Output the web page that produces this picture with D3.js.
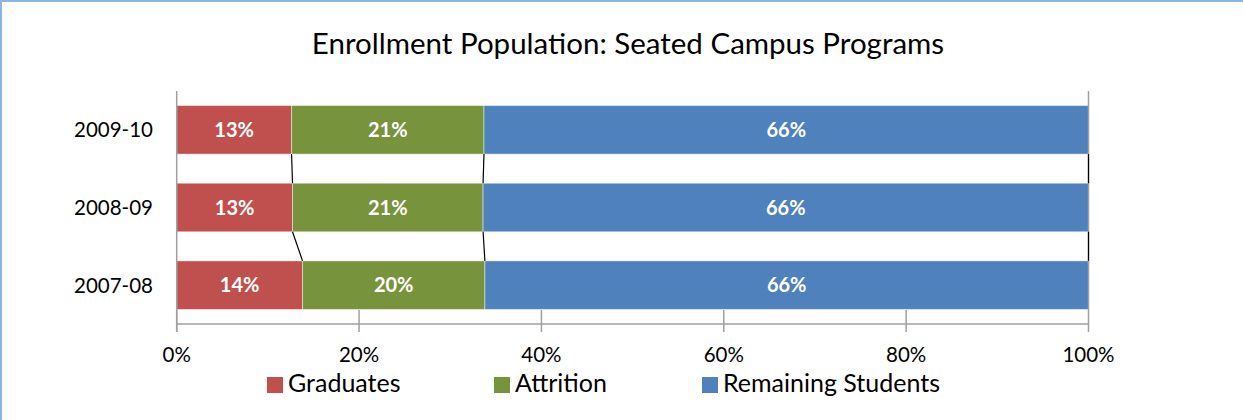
<!DOCTYPE html>
<html>
<head>
<meta charset="utf-8">
<script src="https://cdn.jsdelivr.net/npm/d3@7/dist/d3.min.js"></script>
<style>
  html, body { margin: 0; padding: 0; background: #fff; }
  svg { display: block; }
  text { font-family: Lato, "Open Sans", sans-serif; }
</style>
</head>
<body>
<svg id="chart" width="1243" height="420"></svg>
<script>
// ---- data ----
const categories = ["2009-10", "2008-09", "2007-08"];
const seriesNames = ["Graduates", "Attrition", "Remaining Students"];
const graduates = [0.126, 0.127, 0.138];
const attrition = [0.211, 0.209, 0.200];
const remaining = [0.663, 0.664, 0.662];
const tickValues = [0, 0.2, 0.4, 0.6, 0.8, 1.0];
const titleText = "Enrollment Population: Seated Campus Programs";

// ---- layout / style ----
const colors = ["#C0504D", "#77933C", "#4F81BD"];
const W = 1243, H = 420;
const plot = { left: 176.7, right: 1088.5, top: 91, bottom: 324 };

const svg = d3.select("#chart");

// chart border (left & top visible)
svg.append("line").attr("x1", 1).attr("x2", 1).attr("y1", 0).attr("y2", H)
  .attr("stroke", "#8EB4E3").attr("stroke-width", 2);
svg.append("line").attr("x1", 0).attr("x2", W).attr("y1", 1).attr("y2", 1)
  .attr("stroke", "#8EB4E3").attr("stroke-width", 2);

const x = d3.scaleLinear().domain([0, 1]).range([plot.left, plot.right]);
const y = d3.scaleBand().domain(categories).range([plot.top, plot.bottom])
  .paddingInner(0.375).paddingOuter(0.1875);

const seriesData = [graduates, attrition, remaining];
// stacked data
const stacked = categories.map((c, i) => {
  let acc = 0;
  return seriesData.map((s, k) => {
    const d = { cat: c, k, x0: acc, x1: acc + s[i], v: s[i] };
    acc += s[i];
    return d;
  });
});

// title
svg.append("text").attr("x", 628).attr("y", 54).attr("text-anchor", "middle")
  .attr("font-size", 29.5).attr("fill", "#000").text(titleText);

// bars
const g = svg.append("g");
stacked.forEach(row => {
  g.selectAll(null).data(row).enter().append("rect")
    .attr("x", d => x(d.x0))
    .attr("y", d => y(d.cat))
    .attr("width", d => x(d.x1) - x(d.x0))
    .attr("height", y.bandwidth())
    .attr("fill", d => colors[d.k])
    .attr("stroke", "rgba(255,255,255,0.45)")
    .attr("stroke-width", 1);
  g.selectAll(null).data(row).enter().append("text")
    .attr("x", d => (x(d.x0) + x(d.x1)) / 2)
    .attr("y", d => y(d.cat) + y.bandwidth() / 2)
    .attr("dy", "0.36em")
    .attr("text-anchor", "middle")
    .attr("font-size", 20).attr("font-weight", "bold").attr("fill", "#fff")
    .text(d => Math.round(d.v * 100) + "%");
});

// series lines between bars
function seriesLines(ks) {
  for (let i = 0; i < categories.length - 1; i++) {
    ks.forEach(k => {
      const a = stacked[i][k], b = stacked[i + 1][k];
      svg.append("line")
        .attr("x1", x(a.x1)).attr("y1", y(a.cat) + y.bandwidth())
        .attr("x2", x(b.x1)).attr("y2", y(b.cat))
        .attr("stroke", "#000").attr("stroke-width", 1.2);
    });
  }
}
seriesLines([0, 1]);

// axes
const axisColor = "#a0a0a0";
svg.append("line").attr("x1", x(0)).attr("x2", x(0)).attr("y1", plot.top).attr("y2", plot.bottom + 8)
  .attr("stroke", axisColor).attr("stroke-width", 1.5);
svg.append("line").attr("x1", x(0)).attr("x2", x(1)).attr("y1", plot.bottom).attr("y2", plot.bottom)
  .attr("stroke", axisColor).attr("stroke-width", 1.5);
svg.selectAll(".tick").data(tickValues).enter().append("line")
  .attr("x1", d => x(d)).attr("x2", d => x(d))
  .attr("y1", d => d === 1 ? plot.top : plot.bottom - 14)
  .attr("y2", plot.bottom + 8)
  .attr("stroke", axisColor).attr("stroke-width", 1.5);
seriesLines([2]);

const fmt = d3.format(".0%");
svg.selectAll(".tl").data(tickValues).enter().append("text")
  .attr("x", d => x(d)).attr("y", 362)
  .attr("text-anchor", "middle").attr("font-size", 20.5).attr("fill", "#000")
  .text(d => fmt(d));
svg.selectAll(".cl").data(categories).enter().append("text")
  .attr("x", 153).attr("y", d => y(d) + y.bandwidth() / 2)
  .attr("dy", "0.36em")
  .attr("text-anchor", "end").attr("font-size", 20.5).attr("fill", "#000")
  .text(d => d);

// legend
const legendX = [267, 494, 702];
const lg = svg.selectAll(".lg").data(seriesNames).enter().append("g")
  .attr("transform", (d, i) => `translate(${legendX[i]},377)`);
lg.append("rect").attr("width", 16).attr("height", 16).attr("fill", (d, i) => colors[i]);
lg.append("text").attr("x", 21).attr("y", 15).attr("font-size", 25).attr("fill", "#000").text(d => d);
</script>
</body>
</html>
